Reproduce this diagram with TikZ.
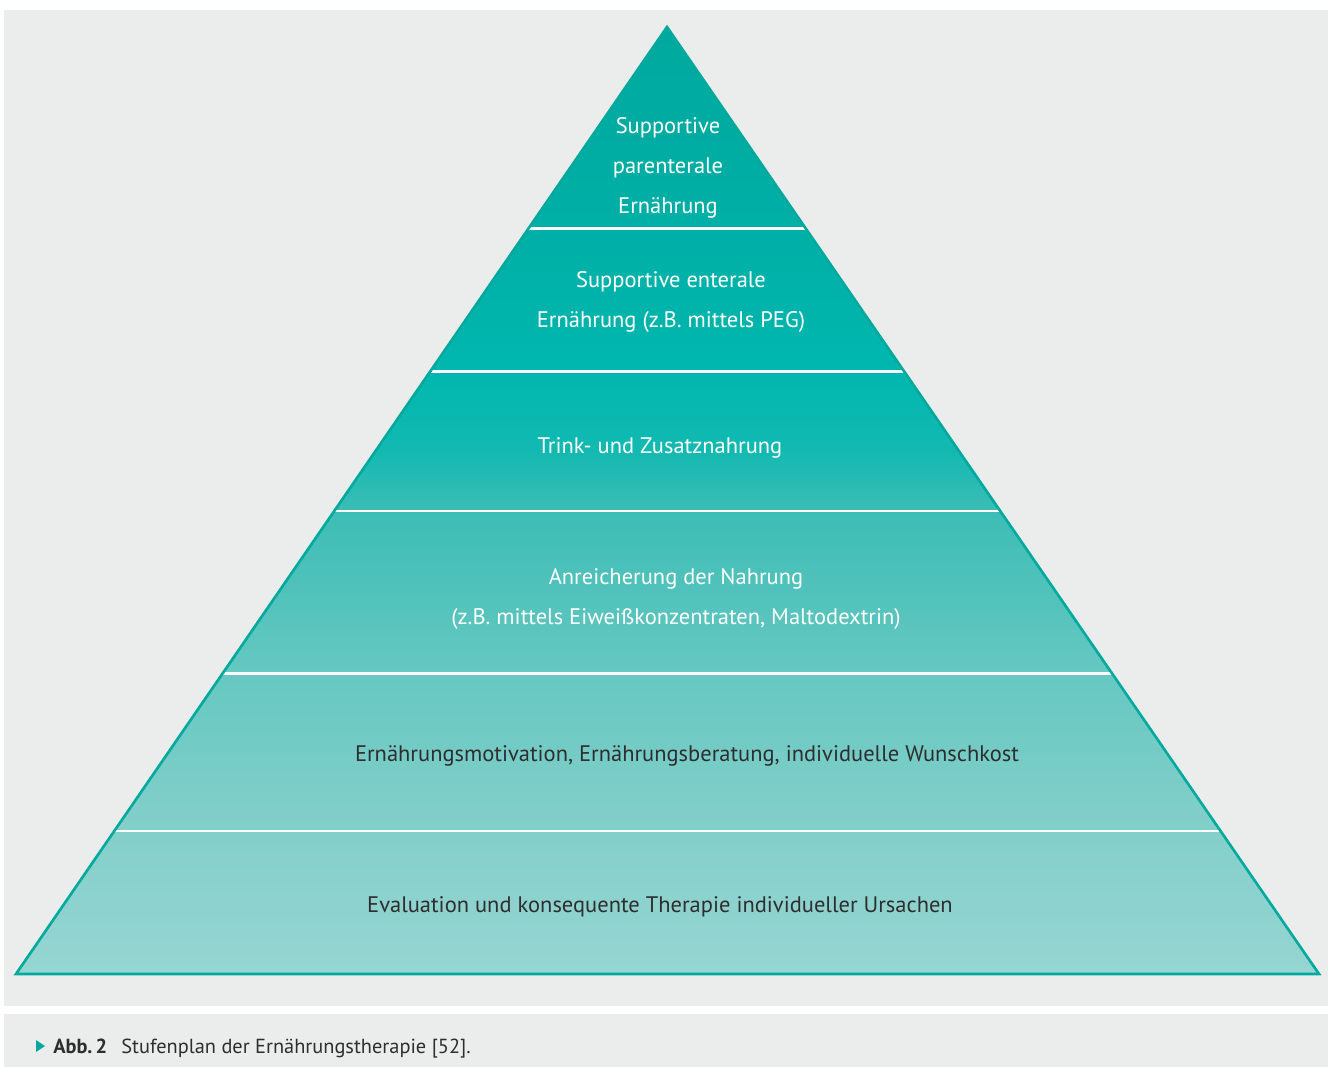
\documentclass[tikz,border=0pt]{standalone}
\usepackage{fontspec}
\setmainfont{PT Sans}
\usetikzlibrary{calc}
\definecolor{panelgray}{HTML}{EBEDEC}
\definecolor{stufenrand}{HTML}{00A99D}
\definecolor{textdunkel}{HTML}{2E2E2E}
\definecolor{stufeA}{HTML}{00A99E}
\definecolor{stufeB}{HTML}{00AFA6}
\definecolor{stufeC}{HTML}{00B7AF}
\definecolor{stufeD}{HTML}{12B9B1}
\definecolor{stufeE}{HTML}{3CBDB5}
\definecolor{stufeF}{HTML}{66C8C1}
\definecolor{stufeG}{HTML}{84CFCA}
\definecolor{stufeH}{HTML}{96D5D2}
\pgfdeclareverticalshading{stufenfill}{100bp}{color(0bp)=(stufeH); color(25bp)=(stufeH); color(32.5bp)=(stufeG); color(40.8bp)=(stufeF); color(49.5bp)=(stufeE); color(52.7bp)=(stufeD); color(56.8bp)=(stufeC); color(64.4bp)=(stufeB); color(75bp)=(stufeA); color(100bp)=(stufeA)}
\tikzset{
	stufe/.style={font=\fontsize{12.8}{22.7}\selectfont,align=center,text=white,inner sep=0pt},
	stufedunkel/.style={stufe,text=textdunkel},
	caption/.style={font=\fontsize{11.6}{13}\selectfont,text=textdunkel,inner sep=0pt,anchor=base west}
}
\begin{document}
\begin{tikzpicture}[x=0.02cm,y=-0.02cm]
	\useasboundingbox (0,0) rectangle (1330,1067);
	\fill[panelgray] (4,10) rectangle (1328,1006);
	\fill[panelgray] (4,1014) rectangle (1328,1067);
	\coordinate (spitze) at (667,27);
	\coordinate (links) at (16,974);
	\coordinate (rechts) at (1319,974);
	\shade[shading=stufenfill] (spitze) -- (links) -- (rechts) -- cycle;
	\foreach \f in {0.2123,0.3643,0.5111,0.6832,0.849}
		\draw[white,line width=1.7pt] ($(spitze)!\f!(links)$) -- ($(spitze)!\f!(rechts)$);
	\draw[stufenrand,line width=1.5pt,line join=miter] (spitze) -- (links) -- (rechts) -- cycle;
	\node[stufe] (parenteral) at (668,168) {Supportive\\parenterale\\Ernährung};
	\node[stufe] (enteral) at (671,302) {Supportive enterale\\Ernährung (z.B. mittels PEG)};
	\node[stufe] (trink) at (660,448) {Trink- und Zusatznahrung};
	\node[stufe] (anreicherung) at (676,599) {Anreicherung der Nahrung\\(z.B. mittels Eiweißkonzentraten, Maltodextrin)};
	\node[stufedunkel] (motivation) at (687,756) {Ernährungsmotivation, Ernährungsberatung, individuelle Wunschkost};
	\node[stufedunkel] (evaluation) at (660,907) {Evaluation und konsequente Therapie individueller Ursachen};
	\fill[stufenrand] (36,1040) -- (45,1046) -- (36,1052) -- cycle;
	\node[caption] (abb) at (53,1053) {\textbf{Abb.\,2}};
	\node[caption] (titel) at (121,1053) {Stufenplan der Ernährungstherapie [52].};
\end{tikzpicture}
\end{document}
